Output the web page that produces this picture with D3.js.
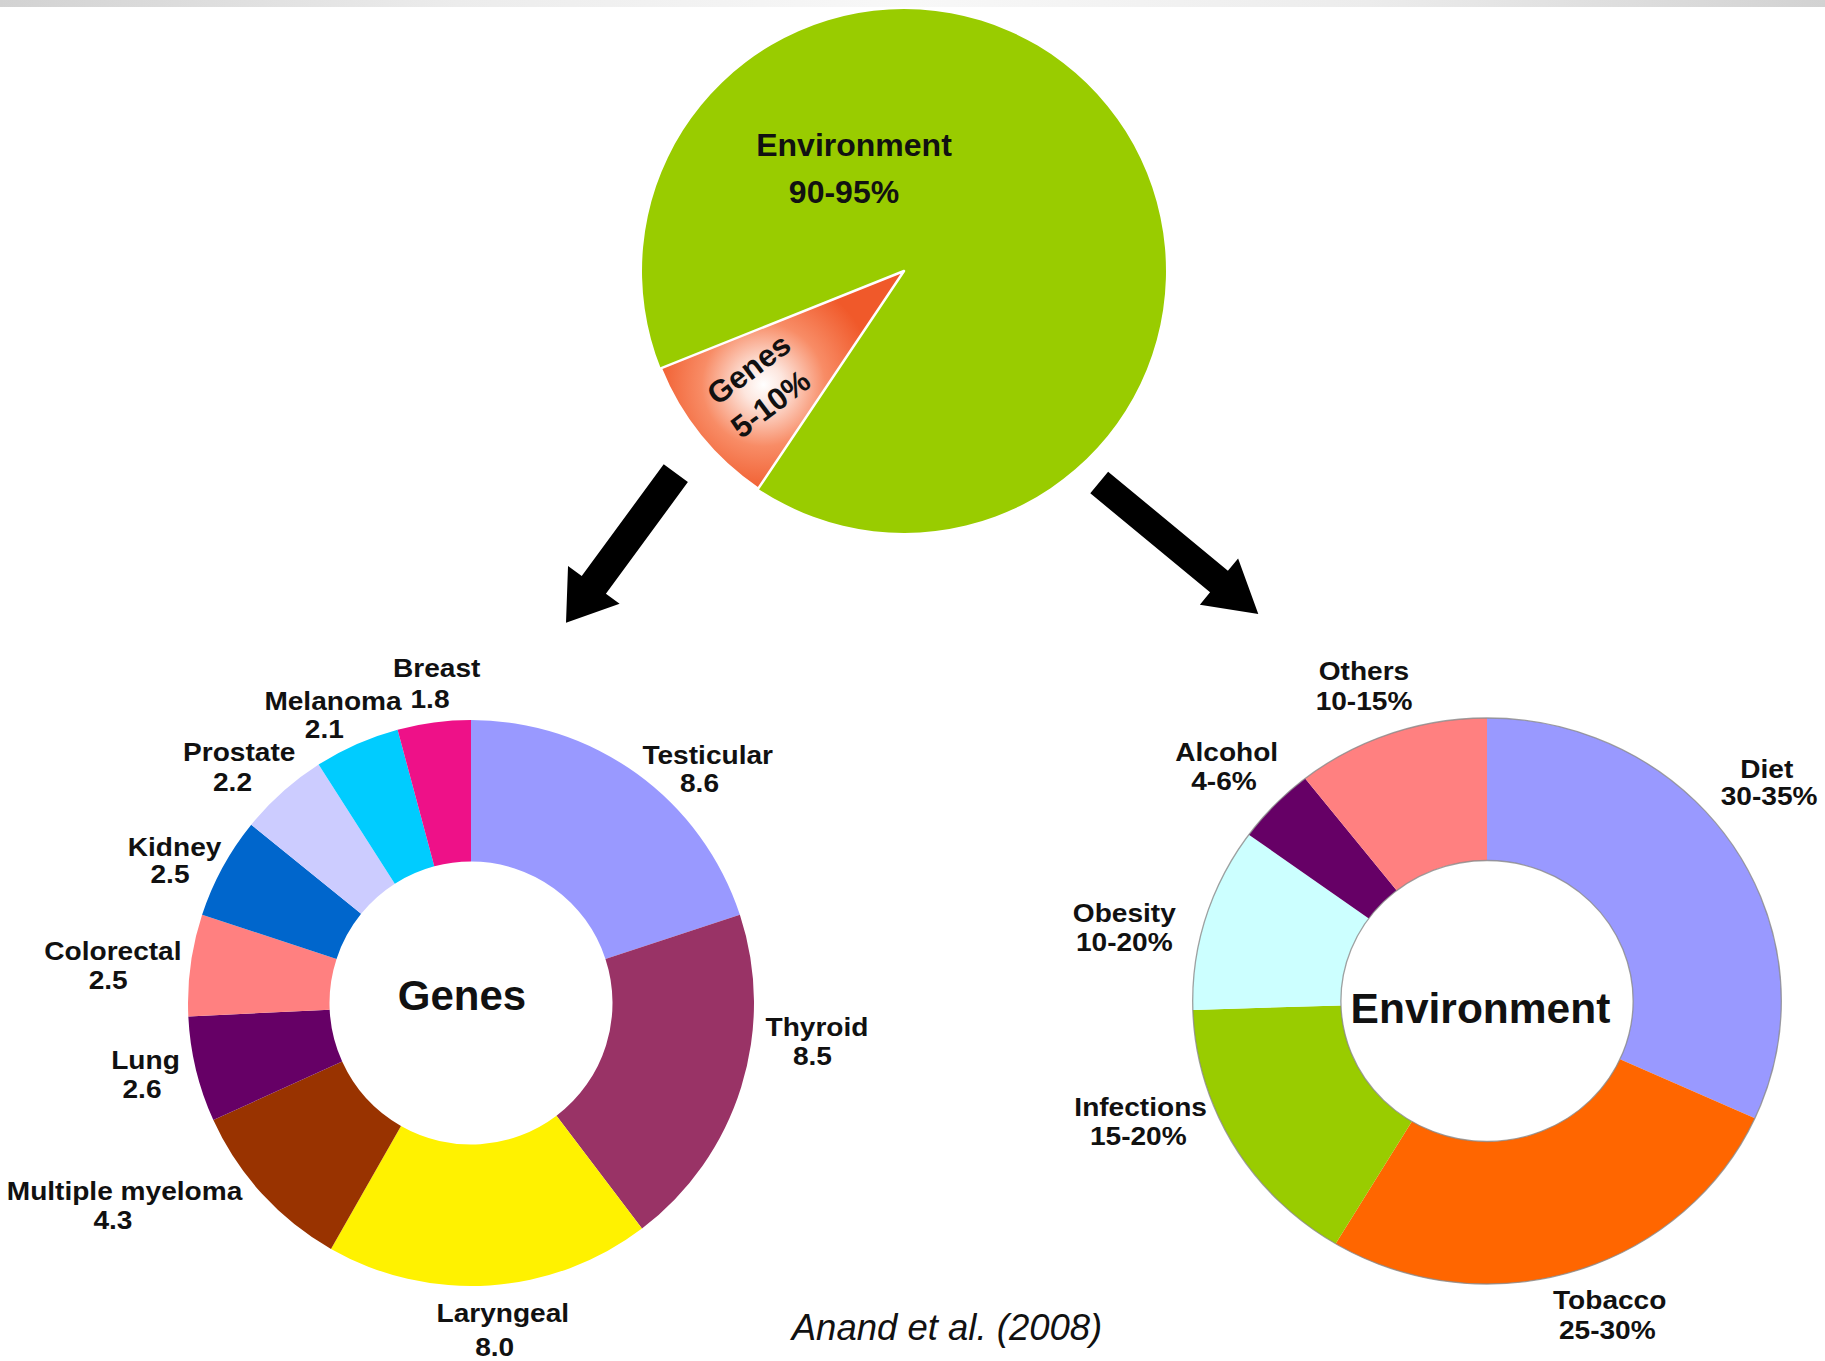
<!DOCTYPE html>
<html><head><meta charset="utf-8">
<script src="https://cdn.jsdelivr.net/npm/d3@7"></script>
<style>html,body{margin:0;padding:0;background:#fff;} svg{display:block;}</style>
</head><body>
<svg id="chart" width="1825" height="1361"></svg>
<script>
// ---------------- data ----------------
const overviewCategories = ["Environment", "Genes"];
const overviewRangeLabels = ["90-95%", "5-10%"];
const overviewShares = [90.45, 9.55];          // slice sizes as drawn

const genesCategories = ["Testicular", "Thyroid", "Laryngeal", "Multiple myeloma", "Lung",
                         "Colorectal", "Kidney", "Prostate", "Melanoma", "Breast"];
const genesValues = [8.6, 8.5, 8.0, 4.3, 2.6, 2.5, 2.5, 2.2, 2.1, 1.8];

const envCategories = ["Diet", "Tobacco", "Infections", "Obesity", "Alcohol", "Others"];
const envRangeLabels = ["30-35%", "25-30%", "15-20%", "10-20%", "4-6%", "10-15%"];
const envShares = [31.8, 26.8, 15.9, 10.5, 4.4, 10.6];   // slice sizes as drawn

const citationText = "Anand et al. (2008)";

// ---------------- styles ----------------
const overviewColors = ["#99cc00", "url(#genesWedgeGrad)"];
const genesColors = ["#9999ff", "#993366", "#fff200", "#993300", "#660066",
                     "#ff8080", "#0066cc", "#ccccff", "#00ccff", "#ee1188"];
const envColors = ["#9999ff", "#ff6600", "#99cc00", "#ccffff", "#660066", "#ff8080"];
const FONT = "'Liberation Sans', Arial, Helvetica, sans-serif";

// ---------------- layout ----------------
const W = 1825, H = 1361;
const overviewLayout = { cx: 904, cy: 271, r: 262, startDeg: 248.2 };
const genesLayout = { cx: 471, cy: 1003, inner: 141.5, outer: 283 };
const envLayout = { cx: 1487, cy: 1001, inner: 140.5, outer: 283, sx: 1.04 };
const labelSize = 26, labelStretch = 1.08;

const genesLabelPos = [
  [[707.7, 763.5], [699.5, 791.5]],
  [[817, 1035.9], [812.4, 1065]],
  [[502.8, 1322.2], [494.7, 1356]],
  [[124.5, 1200], [112.9, 1229]],
  [[145.5, 1068.5], [142, 1097.6]],
  [[112.9, 960.2], [108.2, 989.3]],
  [[174.6, 855.5], [170, 883.4]],
  [[239.2, 760.7], [232.5, 790.7]],
  [[333, 710], [324.3, 738.3]],
  [[436.7, 677.3], [430, 708.3]]
];
const envLabelPos = [
  [[1766.8, 777.5], [1769.1, 805.4]],
  [[1609.7, 1309.4], [1607.3, 1338.5]],
  [[1140.6, 1116.2], [1138.3, 1145.3]],
  [[1124.3, 921.8], [1124.3, 950.9]],
  [[1226.7, 760.7], [1224, 790]],
  [[1364, 680], [1364, 710]]
];

const rad = d => d * Math.PI / 180;
const svg = d3.select("#chart");
const defs = svg.append("defs");

// top grey strip
const stripGrad = defs.append("linearGradient").attr("id", "stripGrad");
[[0, "#d2d2d2"], [0.25, "#ececec"], [0.5, "#f8f8f8"], [0.75, "#ececec"], [1, "#d2d2d2"]]
  .forEach(([o, c]) => stripGrad.append("stop").attr("offset", o).attr("stop-color", c));
svg.append("rect").attr("x", 0).attr("y", 0).attr("width", W).attr("height", 7).attr("fill", "url(#stripGrad)");

// ---------------- overview pie ----------------
const ovPie = d3.pie().sort(null).value(d => d)
  .startAngle(rad(overviewLayout.startDeg)).endAngle(rad(overviewLayout.startDeg) + 2 * Math.PI);
const ovArcsData = ovPie(overviewShares);
const ovArc = d3.arc().innerRadius(0).outerRadius(overviewLayout.r);
const ovG = svg.append("g").attr("transform", `translate(${overviewLayout.cx},${overviewLayout.cy})`);

// gradient for the genes wedge, centred inside the wedge (coords local to ovG)
const gc = d3.arc().innerRadius(0).outerRadius(overviewLayout.r * 1.38).centroid(ovArcsData[1]);
const wedgeGrad = defs.append("radialGradient").attr("id", "genesWedgeGrad")
  .attr("gradientUnits", "userSpaceOnUse")
  .attr("cx", gc[0]).attr("cy", gc[1]).attr("fx", gc[0]).attr("fy", gc[1]).attr("r", 112);
[[0, "#ffffff"], [0.18, "#fde6de"], [0.55, "#f88c66"], [1, "#f0592a"]]
  .forEach(([o, c]) => wedgeGrad.append("stop").attr("offset", o).attr("stop-color", c));

ovG.selectAll("path").data(ovArcsData).join("path")
  .attr("d", ovArc)
  .attr("fill", (d, i) => overviewColors[i])
  .attr("stroke", (d, i) => i === 1 ? "#ffffff" : "none")
  .attr("stroke-width", 2.5)
  .attr("stroke-linejoin", "round");

ovG.append("text").attr("x", -50).attr("y", -115)
  .attr("text-anchor", "middle").attr("font-family", FONT).attr("font-weight", "bold")
  .attr("font-size", 32).attr("fill", "#111").text(overviewCategories[0]);
ovG.append("text").attr("x", -60).attr("y", -68.5)
  .attr("text-anchor", "middle").attr("font-family", FONT).attr("font-weight", "bold")
  .attr("font-size", 32).attr("fill", "#111").text(overviewRangeLabels[0]);

const wedgeText = svg.append("g").attr("transform", "translate(759,386) rotate(-37)");
wedgeText.append("text").attr("x", 2).attr("y", -9)
  .attr("text-anchor", "middle").attr("font-family", FONT).attr("font-weight", "bold")
  .attr("font-size", 31).attr("fill", "#111").text(overviewCategories[1]);
wedgeText.append("text").attr("x", -1.5).attr("y", 32)
  .attr("text-anchor", "middle").attr("font-family", FONT).attr("font-weight", "bold")
  .attr("font-size", 31).attr("fill", "#111").text(overviewRangeLabels[1]);

// ---------------- arrows ----------------
function arrowPath(x0, y0, x1, y1, sw, hw, hl) {
  const dx = x1 - x0, dy = y1 - y0, L = Math.hypot(dx, dy);
  const ux = dx / L, uy = dy / L, px = -uy, py = ux;
  const bx = x1 - ux * hl, by = y1 - uy * hl;
  const pts = [
    [x0 + px * sw / 2, y0 + py * sw / 2], [bx + px * sw / 2, by + py * sw / 2],
    [bx + px * hw / 2, by + py * hw / 2], [x1, y1],
    [bx - px * hw / 2, by - py * hw / 2], [bx - px * sw / 2, by - py * sw / 2],
    [x0 - px * sw / 2, y0 - py * sw / 2]];
  return d3.line()(pts) + "Z";
}
svg.append("path").attr("d", arrowPath(675.8, 473.2, 566, 622.7, 30, 64, 47)).attr("fill", "#000");
svg.append("path").attr("d", arrowPath(1099.2, 482.5, 1258.3, 614, 28, 60, 51)).attr("fill", "#000");

// ---------------- label helper ----------------
function drawLabel(lines, pos) {
  lines.forEach((t, k) => {
    svg.append("text")
      .attr("transform", `translate(${pos[k][0]},${pos[k][1]}) scale(${labelStretch},1)`)
      .attr("text-anchor", "middle").attr("font-family", FONT).attr("font-weight", "bold")
      .attr("font-size", labelSize).attr("fill", "#111").text(t);
  });
}

// ---------------- genes donut ----------------
const donutPie = d3.pie().sort(null).value(d => d);
const gArc = d3.arc().innerRadius(genesLayout.inner).outerRadius(genesLayout.outer);
const gG = svg.append("g").attr("transform", `translate(${genesLayout.cx},${genesLayout.cy})`);
gG.selectAll("path").data(donutPie(genesValues)).join("path")
  .attr("d", gArc).attr("fill", (d, i) => genesColors[i]);
gG.append("text").attr("x", -9).attr("y", 7)
  .attr("text-anchor", "middle").attr("font-family", FONT).attr("font-weight", "bold")
  .attr("font-size", 42).attr("fill", "#111").text("Genes");
const fmt = d3.format(".1f");
genesCategories.forEach((c, i) => drawLabel([c, fmt(genesValues[i])], genesLabelPos[i]));

// ---------------- environment donut ----------------
const eArc = d3.arc().innerRadius(envLayout.inner).outerRadius(envLayout.outer);
const eG = svg.append("g").attr("transform", `translate(${envLayout.cx},${envLayout.cy}) scale(${envLayout.sx},1)`);
eG.selectAll("path").data(donutPie(envShares)).join("path")
  .attr("d", eArc).attr("fill", (d, i) => envColors[i]);
[envLayout.outer, envLayout.inner].forEach(r => {
  eG.append("circle").attr("r", r).attr("fill", "none").attr("stroke", "#8a8a8a")
    .attr("stroke-width", 1.3).attr("vector-effect", "non-scaling-stroke").attr("opacity", 0.8);
});
svg.append("text").attr("x", 1480.5).attr("y", 1023)
  .attr("text-anchor", "middle").attr("font-family", FONT).attr("font-weight", "bold")
  .attr("font-size", 42.5).attr("fill", "#111").text("Environment");
envCategories.forEach((c, i) => drawLabel([c, envRangeLabels[i]], envLabelPos[i]));

// ---------------- citation ----------------
svg.append("text").attr("x", 947).attr("y", 1340)
  .attr("text-anchor", "middle").attr("font-family", FONT).attr("font-style", "italic")
  .attr("font-size", 36.5).attr("fill", "#111").text(citationText);
</script>
</body></html>
